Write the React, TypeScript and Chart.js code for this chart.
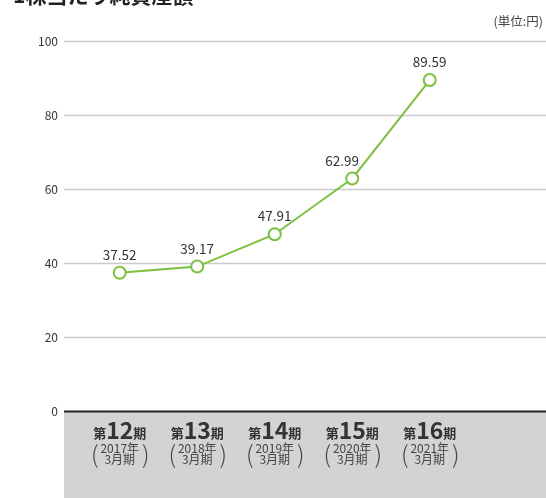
import React, { useEffect, useRef } from "react";
import { Chart, registerables } from "chart.js";

Chart.register(...registerables);

const periods = ["12", "13", "14", "15", "16"];
const years = ["2017年", "2018年", "2019年", "2020年", "2021年"];
const values = [37.52, 39.17, 47.91, 62.99, 89.59];
const yTicks = [0, 20, 40, 60, 80, 100];
const title = "1株当たり純資産額";
const unitLabel = "(単位:円)";

const FONT = '"Noto Sans CJK JP", "Noto Sans", sans-serif';
const GREEN = "#7cc03f";

const decorPlugin = {
  id: "decor",
  beforeDraw(chart: any) {
    const { ctx, chartArea, width, height } = chart;
    ctx.save();
    ctx.fillStyle = "#d2d3d4";
    ctx.fillRect(chartArea.left, chartArea.bottom, width - chartArea.left, height - chartArea.bottom);
    ctx.fillStyle = "#222";
    ctx.font = `bold 21px ${FONT}`;
    ctx.textAlign = "left";
    ctx.textBaseline = "alphabetic";
    ctx.fillText(title, 13, 3);
    ctx.fillStyle = "#444";
    ctx.font = `12.5px ${FONT}`;
    ctx.textAlign = "right";
    ctx.textBaseline = "middle";
    ctx.fillText(unitLabel, 543, 21);
    ctx.restore();
  },
  beforeDatasetsDraw(chart: any) {
    const { ctx, chartArea, scales } = chart;
    ctx.save();
    ctx.strokeStyle = "#cbcbcb";
    ctx.lineWidth = 1.5;
    yTicks.forEach((v) => {
      if (v === 0) return;
      const y = scales.y.getPixelForValue(v);
      ctx.beginPath();
      ctx.moveTo(chartArea.left, y);
      ctx.lineTo(chart.width, y);
      ctx.stroke();
    });
    ctx.restore();
  },
  afterDraw(chart: any) {
    const { ctx, chartArea, scales } = chart;
    const xs = scales.x;
    ctx.save();
    ctx.strokeStyle = "#222";
    ctx.lineWidth = 2;
    ctx.beginPath();
    ctx.moveTo(chartArea.left, chartArea.bottom);
    ctx.lineTo(chart.width, chartArea.bottom);
    ctx.stroke();
    periods.forEach((p, i) => {
      const cx = xs.getPixelForValue(i);
      const base = 438;
      ctx.fillStyle = "#333";
      ctx.textBaseline = "alphabetic";
      ctx.font = `bold 13px ${FONT}`;
      const wDai = ctx.measureText("第").width;
      const wKi = ctx.measureText("期").width;
      ctx.font = `600 23px ${FONT}`;
      const wNum = ctx.measureText(p).width;
      const total = wDai + wNum + wKi;
      let x = cx - total / 2;
      ctx.textAlign = "left";
      ctx.font = `bold 13px ${FONT}`;
      ctx.fillText("第", x, base);
      x += wDai;
      ctx.font = `600 23px ${FONT}`;
      ctx.fillText(p, x, base + 0.5);
      x += wNum;
      ctx.font = `bold 13px ${FONT}`;
      ctx.fillText("期", x, base);
      ctx.fillStyle = "#444";
      ctx.textAlign = "center";
      ctx.font = `12px ${FONT}`;
      ctx.fillText(years[i], cx, 453);
      ctx.fillText("3月期", cx, 464);
      ctx.font = `300 24px ${FONT}`;
      ctx.fillText("(", cx - 25, 463);
      ctx.fillText(")", cx + 26, 463);
    });
    ctx.restore();
  },
  afterDatasetsDraw(chart: any) {
    const { ctx } = chart;
    const meta = chart.getDatasetMeta(0);
    const dx = [0, 0, 0, -10, 0];
    ctx.save();
    ctx.fillStyle = "#333";
    ctx.font = `13.5px ${FONT}`;
    ctx.textAlign = "center";
    ctx.textBaseline = "middle";
    meta.data.forEach((pt: any, i: number) => {
      ctx.fillText(values[i].toFixed(2), pt.x + dx[i], pt.y - 18);
    });
    ctx.restore();
  },
};

export default function App() {
  const ref = useRef<HTMLCanvasElement>(null);
  useEffect(() => {
    if (!ref.current) return;
    const chart = new Chart(ref.current, {
      type: "line",
      data: {
        datasets: [
          {
            data: values.map((v, i) => ({ x: i, y: v })),
            borderColor: GREEN,
            borderWidth: 2,
            pointRadius: 6,
            pointHoverRadius: 6,
            pointBackgroundColor: "#ffffff",
            pointBorderColor: GREEN,
            pointBorderWidth: 2,
            tension: 0,
          },
        ],
      },
      options: {
        responsive: false,
        animation: false,
        events: [],
        layout: { padding: { top: 41.5, bottom: 86.5, left: 0, right: 0 } },
        plugins: { legend: { display: false }, tooltip: { enabled: false }, title: { display: false } },
        scales: {
          x: {
            type: "linear",
            display: false,
            min: -0.719,
            max: 5.397,
          },
          y: {
            min: 0,
            max: 100,
            afterFit: (s: any) => {
              s.width = 64;
            },
            afterBuildTicks: (s: any) => {
              s.ticks = yTicks.map((v) => ({ value: v }));
            },
            border: { display: false },
            grid: { display: false, drawTicks: false },
            ticks: {
              color: "#333",
              padding: 6,
              font: { family: FONT, size: 12 },
            },
          },
        },
      },
      plugins: [decorPlugin],
    });
    return () => chart.destroy();
  }, []);
  return (
    <div style={{ position: "absolute", left: 0, top: 0, width: 546, height: 498 }}>
      <canvas ref={ref} width={546} height={498} style={{ width: 546, height: 498 }} />
    </div>
  );
}
